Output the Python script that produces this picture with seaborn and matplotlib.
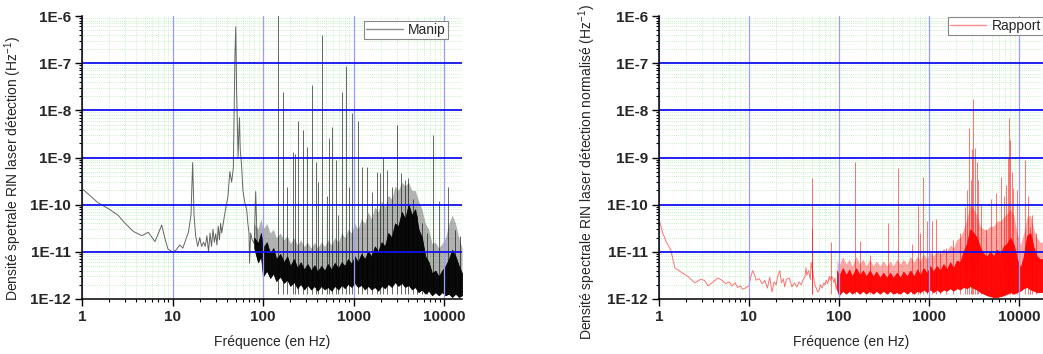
import numpy as np
import pandas as pd
import matplotlib
matplotlib.use("Agg")
import matplotlib.pyplot as plt
import seaborn as sns
from matplotlib.ticker import LogLocator, FixedLocator, FixedFormatter, NullFormatter

# ---------------- data ----------------
x_ticks = [1, 10, 100, 1000, 10000]
x_tick_labels = ["1", "10", "100", "1000", "10000"]
y_ticks = [1e-12, 1e-11, 1e-10, 1e-9, 1e-8, 1e-7, 1e-6]
y_tick_labels = ["1E-12", "1E-11", "1E-10", "1E-9", "1E-8", "1E-7", "1E-6"]

# --- Manip (left) : low-frequency trace
manip_f = [1, 1.5, 2, 2.5, 3, 3.7, 4.6, 5.4, 6.4, 7.0, 7.6, 8.2, 8.9, 10, 11, 12, 13, 14, 15, 16,
           16.7, 17.3, 18, 19, 20, 21, 22, 23, 24, 25, 26, 27, 28, 29, 30, 31, 32, 33, 34, 35,
           37, 39, 41, 43, 45, 47, 49, 50, 51, 52, 53, 54, 55, 56, 58, 60, 63, 66, 68, 70, 71,
           73, 76, 80, 83, 86, 90, 95]
manip_v = [2.2e-10, 1.1e-10, 8e-11, 6e-11, 4e-11, 2.7e-11, 2.2e-11, 2.6e-11, 1.65e-11, 2.5e-11,
           3.7e-11, 2e-11, 1.15e-11, 1.0e-11, 1.1e-11, 1.4e-11, 1.2e-11, 1.8e-11, 2.6e-11, 6e-11,
           7.8e-10, 6e-11, 2.2e-11, 1.3e-11, 2e-11, 1.3e-11, 1.6e-11, 1.3e-11, 2.2e-11, 1.0e-11,
           2.5e-11, 1.3e-11, 3e-11, 1.6e-11, 2.4e-11, 1.4e-11, 3.5e-11, 1.8e-11, 4e-11, 2.5e-11,
           5e-11, 9e-11, 1.5e-10, 5e-10, 3e-10, 6e-10, 1.6e-7, 5.9e-7, 3e-8, 6.3e-9, 1e-9, 3e-9,
           7e-9, 1.5e-9, 6.5e-10, 2e-10, 1.1e-10, 7.8e-11, 4e-11, 2.5e-11, 5.8e-12, 2.5e-11,
           1.8e-11, 1.5e-11, 1.9e-10, 1.8e-11, 6.8e-12, 8e-12]

# --- Manip : dense noise band (lower / dense upper / light upper envelopes)
manip_band_f = [80, 88, 95, 100, 110, 120, 130, 140, 155, 170,
                185, 200, 220, 240, 260, 285, 310, 340, 370, 400,
                440, 480, 520, 570, 620, 680, 740, 800, 870, 950,
                1030, 1120, 1220, 1330, 1450, 1580, 1720, 1870, 2040, 2220,
                2420, 2640, 2870, 3130, 3410, 3720, 4050, 4410, 4800, 5230,
                5700, 6210, 6770, 7370, 8030, 8750, 9530, 10400, 11300, 12300,
                13400, 14600, 15800]
manip_band_lo = [1.2e-11, 6e-12, 8e-12, 3e-12, 4e-12, 2.8e-12, 3.5e-12, 2.4e-12, 3e-12, 2.2e-12,
                 2.6e-12, 1.9e-12, 2.3e-12, 1.7e-12, 2.1e-12, 1.6e-12, 2e-12, 1.6e-12, 1.9e-12, 1.5e-12,
                 1.9e-12, 1.6e-12, 1.8e-12, 1.5e-12, 1.9e-12, 1.6e-12, 2e-12, 1.7e-12, 2.1e-12, 1.8e-12,
                 2.2e-12, 1.8e-12, 2e-12, 1.6e-12, 1.9e-12, 1.6e-12, 1.8e-12, 1.5e-12, 1.9e-12, 1.7e-12,
                 2.1e-12, 1.8e-12, 2.3e-12, 1.9e-12, 2.2e-12, 1.8e-12, 2e-12, 1.6e-12, 1.8e-12, 1.4e-12,
                 1.6e-12, 1.3e-12, 1.5e-12, 1.2e-12, 1.4e-12, 1.2e-12, 1.4e-12, 1.2e-12, 1.3e-12, 1.1e-12,
                 1.3e-12, 1.1e-12, 1.2e-12]
manip_band_hi = [2e-11, 1.5e-11, 2.5e-11, 1.2e-11, 1.6e-11, 9e-12, 1.2e-11, 7e-12, 9e-12, 6e-12,
                 8e-12, 5e-12, 7e-12, 4.5e-12, 6e-12, 4.2e-12, 5.5e-12, 4e-12, 5.2e-12, 3.8e-12,
                 5e-12, 4e-12, 5.5e-12, 4.2e-12, 5.8e-12, 4.5e-12, 6e-12, 5e-12, 7e-12, 5.5e-12,
                 8e-12, 6e-12, 9e-12, 7e-12, 1e-11, 8e-12, 1.3e-11, 1e-11, 1.6e-11, 1.3e-11,
                 2.5e-11, 2e-11, 4e-11, 3.5e-11, 7e-11, 5e-11, 1e-10, 6e-11, 8e-11, 3e-11,
                 2e-11, 8e-12, 6e-12, 3.5e-12, 4e-12, 3e-12, 4e-12, 5e-12, 7e-12, 1.1e-11,
                 8e-12, 5e-12, 3.5e-12]
manip_band_mid = [4e-11, 3e-11, 5e-11, 3e-11, 4e-11, 2.5e-11, 3e-11, 2e-11, 2.5e-11, 1.8e-11,
                  2.2e-11, 1.5e-11, 2e-11, 1.4e-11, 1.8e-11, 1.3e-11, 1.6e-11, 1.2e-11, 1.6e-11, 1.2e-11,
                  1.6e-11, 1.3e-11, 1.8e-11, 1.4e-11, 2e-11, 1.6e-11, 2.5e-11, 2e-11, 3e-11, 2.5e-11,
                  4e-11, 3e-11, 5e-11, 4e-11, 7e-11, 5e-11, 9e-11, 7e-11, 1.2e-10, 9e-11,
                  1.6e-10, 1.3e-10, 2.5e-10, 2e-10, 3e-10, 2.5e-10, 3e-10, 2e-10, 2e-10, 1.2e-10,
                  8e-11, 4e-11, 3e-11, 1.5e-11, 1.6e-11, 1.2e-11, 1.5e-11, 2e-11, 4e-11, 6e-11,
                  4e-11, 2e-11, 1.2e-11]

# --- Manip : spikes (frequency, peak)
manip_spike_f = [100, 148, 167, 183, 216, 225, 243, 279, 304, 345, 385, 409, 445, 505, 540, 574,
                 641, 680, 740, 826, 899, 955, 1130, 1230, 1400, 1590, 1800, 1960, 2130, 2360,
                 2640, 3000, 3350, 3710, 4030, 4580, 4990, 5670, 6440, 7620, 8880, 11200, 13200,
                 15000]
manip_spike_v = [6e-10, 2e-6, 2.4e-8, 2.4e-10, 1.3e-9, 1.2e-9, 6e-9, 3.8e-9, 1.7e-9, 3.5e-8, 8e-10,
                 3e-10, 4e-7, 1.5e-10, 2.6e-9, 4.4e-9, 9e-10, 6e-11, 2.5e-8, 8.9e-8, 2.4e-10, 8.7e-9,
                 5.8e-9, 6.4e-10, 6.3e-10, 1.9e-10, 5e-10, 4.6e-10, 9.8e-10, 5.4e-10, 2.4e-10,
                 4.9e-9, 4.6e-10, 3.3e-10, 3.6e-10, 1.3e-10, 6e-11, 4e-11, 2.5e-11, 3e-9, 1.2e-10,
                 2.4e-10, 2.9e-11, 2.2e-11]

# --- Rapport (right) : low-frequency trace
rapport_f = [1, 1.1, 1.2, 1.35, 1.5, 1.8, 2.1, 2.5, 2.9, 3.2, 3.5, 4.0, 4.5, 5.0, 5.5, 6.0, 6.5,
             7.0, 7.5, 8.0, 8.5, 9.0, 9.5, 10, 10.5, 11, 11.5, 12, 13, 14, 15, 16, 17, 18, 19, 20,
             21, 22, 23, 24, 25, 26, 28, 30, 32, 34, 36, 38, 40, 42, 43, 44, 46, 48, 49, 51, 52,
             54, 56, 58, 60, 62, 65, 68, 70, 72, 75, 78, 80, 82, 85, 88, 90, 93, 96]
rapport_v = [5e-11, 2.5e-11, 1.65e-11, 1.1e-11, 4.6e-12, 3.6e-12, 3e-12, 2.2e-12, 2.6e-12, 2.5e-12,
             1.9e-12, 2.3e-12, 2.8e-12, 2.5e-12, 2.1e-12, 2.3e-12, 1.9e-12, 2.2e-12, 1.75e-12,
             1.9e-12, 1.6e-12, 1.7e-12, 1.8e-12, 1.9e-12, 3e-12, 4e-12, 3.3e-12, 2.5e-12, 2.7e-12,
             2.1e-12, 2.5e-12, 1.7e-12, 2.9e-12, 1.4e-12, 2.3e-12, 2e-12, 3.2e-12, 4e-12, 2.2e-12,
             2.7e-12, 1.8e-12, 2.6e-12, 2.8e-12, 1.8e-12, 2.2e-12, 1.8e-12, 2.3e-12, 2e-12, 2.6e-12,
             3e-12, 4.6e-12, 3.2e-12, 4e-12, 2.6e-12, 6e-12, 4e-12, 3e-12, 2e-12, 1.7e-12, 1.4e-12,
             1.5e-12, 2e-12, 1.7e-12, 2.2e-12, 2e-12, 2.5e-12, 2.1e-12, 3e-12, 2.5e-12, 3e-12,
             2.8e-12, 2.2e-12, 2.8e-12, 1.6e-12, 2.2e-12]

# --- Rapport : dense noise band
rapport_band_f = [95, 100, 110, 120, 130, 140, 155, 170, 185, 200,
                  220, 240, 260, 285, 310, 340, 370, 400, 440, 480,
                  520, 570, 620, 680, 740, 800, 870, 950, 1030, 1120,
                  1220, 1330, 1450, 1580, 1720, 1870, 2040, 2220, 2420, 2640,
                  2870, 3130, 3410, 3720, 4050, 4410, 4800, 5230, 5700, 6210,
                  6770, 7370, 8030, 8750, 9530, 10400, 11300, 12300, 13400, 14600,
                  15800, 17200, 18500]
rapport_band_lo = [1.6e-12, 1.2e-12, 1.5e-12, 1.3e-12, 1.5e-12, 1.3e-12, 1.5e-12, 1.3e-12, 1.5e-12, 1.3e-12,
                   1.5e-12, 1.3e-12, 1.5e-12, 1.3e-12, 1.5e-12, 1.3e-12, 1.5e-12, 1.3e-12, 1.4e-12, 1.3e-12,
                   1.5e-12, 1.3e-12, 1.5e-12, 1.3e-12, 1.5e-12, 1.4e-12, 1.6e-12, 1.4e-12, 1.6e-12, 1.4e-12,
                   1.6e-12, 1.4e-12, 1.6e-12, 1.5e-12, 1.7e-12, 1.5e-12, 1.7e-12, 1.6e-12, 1.8e-12, 1.7e-12,
                   1.9e-12, 1.7e-12, 1.6e-12, 1.4e-12, 1.3e-12, 1.2e-12, 1.15e-12, 1.1e-12, 1.1e-12, 1.15e-12,
                   1.2e-12, 1.3e-12, 1.4e-12, 1.3e-12, 1.4e-12, 1.5e-12, 1.7e-12, 1.8e-12, 1.6e-12, 1.5e-12,
                   1.4e-12, 1.4e-12, 1.4e-12]
rapport_band_hi = [4e-12, 3e-12, 4.5e-12, 3.2e-12, 4.2e-12, 3e-12, 4.5e-12, 3.2e-12, 4e-12, 3e-12,
                   4e-12, 3e-12, 3.8e-12, 2.8e-12, 3.6e-12, 2.8e-12, 3.6e-12, 2.8e-12, 3.6e-12, 2.8e-12,
                   3.8e-12, 3e-12, 4e-12, 3e-12, 4.2e-12, 3.2e-12, 4.5e-12, 3.5e-12, 5e-12, 3.8e-12,
                   5e-12, 4e-12, 5.5e-12, 4.2e-12, 6e-12, 4.5e-12, 6.5e-12, 6e-12, 1e-11, 1.5e-11,
                   3e-11, 2.5e-11, 2e-11, 1.2e-11, 9e-12, 8e-12, 1e-11, 8e-12, 1.1e-11, 9e-12,
                   1.3e-11, 1.5e-11, 2e-11, 1.4e-11, 7e-12, 4.5e-12, 8e-12, 2.2e-11, 2.5e-11, 1.2e-11,
                   8e-12, 7e-12, 7e-12]
rapport_band_mid = [7e-12, 5e-12, 8e-12, 5.5e-12, 7e-12, 5e-12, 8e-12, 5.5e-12, 7e-12, 5e-12,
                    7e-12, 5e-12, 6.5e-12, 5e-12, 6.5e-12, 5e-12, 6.5e-12, 5e-12, 7e-12, 5.5e-12,
                    7e-12, 5.5e-12, 8e-12, 6e-12, 8e-12, 6.5e-12, 9e-12, 7e-12, 1e-11, 8e-12,
                    1.1e-11, 9e-12, 1.2e-11, 1e-11, 1.4e-11, 1.2e-11, 1.8e-11, 2e-11, 3e-11, 5e-11,
                    1e-10, 8e-11, 6e-11, 3.5e-11, 3e-11, 3e-11, 3.5e-11, 3.5e-11, 4.5e-11, 4.5e-11,
                    5.5e-11, 6.5e-11, 8e-11, 6e-11, 2.5e-11, 1.4e-11, 2.5e-11, 5.5e-11, 6e-11, 3e-11,
                    2e-11, 1.6e-11, 1.6e-11]

# --- Rapport : spikes
rapport_spike_f = [50, 50.5, 81, 100, 150, 170, 220, 347, 455, 640, 760, 790, 864, 940, 1070, 1200,
                   1320, 1560, 1840, 2200, 2500, 2650, 2800, 2930, 3000, 3100, 3250, 3400, 3520,
                   3800, 4340, 4930, 5600, 6360, 6800, 7230, 7600, 7740, 8030, 8300, 8600, 9550,
                   11800, 12500, 13100, 14000, 15600]
rapport_spike_v = [3.6e-10, 3e-11, 1.65e-11, 1.1e-10, 8e-10, 1.7e-11, 8.5e-12, 4e-11, 6e-10,
                   1.5e-11, 9.5e-11, 2.5e-11, 3.8e-10, 4.4e-11, 4.5e-11, 5e-11, 1.1e-11, 1.2e-11,
                   1.8e-11, 2.5e-11, 9e-11, 2e-10, 4.2e-9, 3.3e-10, 1.5e-9, 1.7e-8, 1.6e-9, 8e-10,
                   3.3e-10, 1e-10, 2.9e-11, 1.3e-10, 1.8e-10, 3.9e-10, 1.5e-10, 2.6e-10, 1e-9, 6.8e-9,
                   2.4e-9, 5e-10, 2.3e-10, 2e-10, 9e-10, 1.5e-10, 3.4e-11, 6e-11, 2.5e-11]

# ---------------- style ----------------
sns.set_theme(style="white")
plt.rcParams["font.family"] = ["Liberation Sans", "DejaVu Sans"]
plt.rcParams["mathtext.default"] = "regular"

W, H = 1043, 354
fig = plt.figure(figsize=(W / 100, H / 100), dpi=100)


def px_axes(x0, x1, y0, y1):
    return fig.add_axes([x0 / W, 1 - y1 / H, (x1 - x0) / W, (y1 - y0) / H])


def panel(ax, xmax, cf, cv, bf, blo, bhi, bmid, sf, sv, color, line_alpha, leg_color, label,
          ylabel, ylab_x, ylab_y, leg_anchor, mid_alpha):
    ax.set_xscale("log")
    ax.set_yscale("log")
    ax.set_xlim(1, xmax)
    ax.set_ylim(1e-12, 1e-6)

    ax.fill_between(bf, blo, bmid, color=color, alpha=mid_alpha, lw=0, zorder=1)
    ax.fill_between(bf, blo, bhi, color=color, alpha=0.95, lw=0.6, zorder=1.2)
    ax.vlines(sf, 1.3e-12, sv, color=color, lw=0.7, alpha=line_alpha, zorder=1.5)
    sns.lineplot(x=cf, y=cv, ax=ax, color=color, lw=0.7, alpha=line_alpha, sort=False,
                 estimator=None, label=label, zorder=2)

    # grids
    ax.set_axisbelow(True)
    ax.xaxis.set_minor_locator(LogLocator(base=10, subs=np.arange(2, 10), numticks=20))
    ax.yaxis.set_minor_locator(LogLocator(base=10, subs=np.arange(2, 10), numticks=20))
    ax.xaxis.set_minor_formatter(NullFormatter())
    ax.yaxis.set_minor_formatter(NullFormatter())
    ax.grid(which="minor", color="#b5ecb5", ls=(0, (1, 1.5)), lw=0.6)
    ax.grid(which="major", visible=False)
    for t in x_ticks:
        ax.axvline(t, color="#9c9cff", lw=0.9, zorder=3)
    for t in y_ticks[1:-1]:
        ax.axhline(t, color="#1010ee", lw=1.3, zorder=3)

    ax.xaxis.set_major_locator(FixedLocator(x_ticks))
    ax.xaxis.set_major_formatter(FixedFormatter(x_tick_labels))
    ax.yaxis.set_major_locator(FixedLocator(y_ticks))
    ax.yaxis.set_major_formatter(FixedFormatter(y_tick_labels))
    ax.tick_params(which="major", direction="out", length=5, width=1, color="black",
                   labelsize=11, pad=3, left=True, bottom=True)
    ax.tick_params(which="minor", direction="out", length=2.5, width=0.8, color="black",
                   left=True, bottom=True)
    for lab in ax.get_xticklabels() + ax.get_yticklabels():
        lab.set_fontweight("bold")

    for s in ["top", "right"]:
        ax.spines[s].set_visible(False)
    for s in ["left", "bottom"]:
        ax.spines[s].set_color("black")
        ax.spines[s].set_linewidth(1.1)
        ax.spines[s].set_zorder(4)

    ax.set_xlabel("Fréquence (en Hz)", fontsize=10)
    ax.xaxis.set_label_coords(0.5, -0.128)
    ax.set_ylabel(ylabel, fontsize=10)
    ax.yaxis.set_label_coords(ylab_x, ylab_y)

    leg = ax.legend(loc="upper right", bbox_to_anchor=leg_anchor, borderaxespad=0,
                    frameon=True, fancybox=False, fontsize=10, handlelength=2.6,
                    borderpad=0.15, handletextpad=0.4, framealpha=1)
    for ln in leg.get_lines():
        ln.set_color(leg_color)
        ln.set_alpha(1)
        ln.set_linewidth(1.0)
    leg.get_frame().set_edgecolor("#888888")
    leg.get_frame().set_linewidth(0.8)
    leg.set_zorder(5)


ax1 = px_axes(82, 462, 16, 299)
panel(ax1, 15800, manip_f, manip_v, manip_band_f, manip_band_lo, manip_band_hi, manip_band_mid,
      manip_spike_f, manip_spike_v, "black", 0.6, "#8a8a8a", "Manip",
      "Densité spetrale RIN laser détection (Hz$^{-1}$)",
      -(82 - 24) / 380, 0.46, (1 - 14 / 380, 1 - 5 / 283), 0.3)

ax2 = px_axes(659, 1043, 16, 299)
panel(ax2, 18500, rapport_f, rapport_v, rapport_band_f, rapport_band_lo, rapport_band_hi,
      rapport_band_mid, rapport_spike_f, rapport_spike_v, "red", 0.55, "#ff8c8c", "Rapport",
      "Densité spectrale RIN laser détection normalisé (Hz$^{-1}$)",
      -(659 - 598) / 384, 0.45, (1.0, 1 - 1 / 283), 0.35)

fig.savefig("out.png", dpi=100)
